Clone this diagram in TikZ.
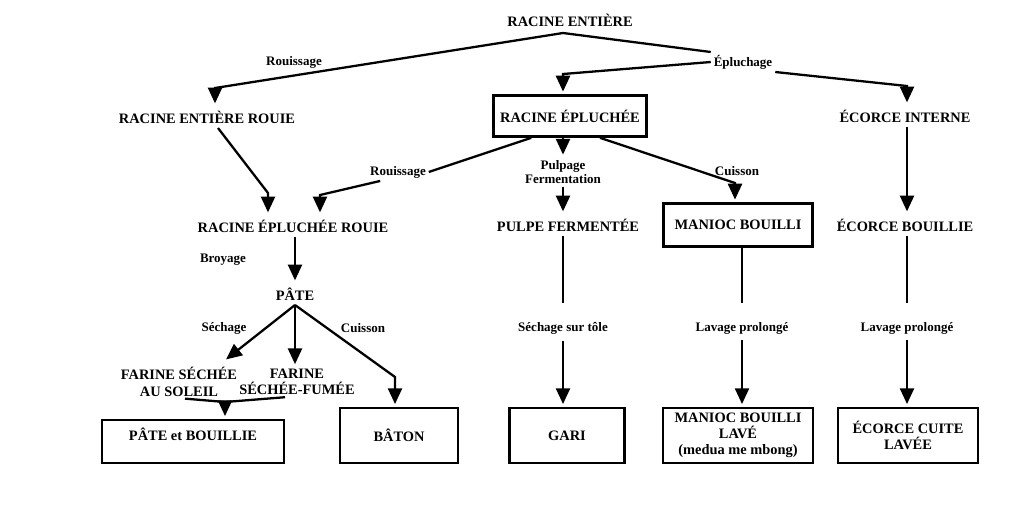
\documentclass[tikz,border=0pt]{standalone}
\usepackage{fontspec}
\setmainfont{Liberation Serif}
\usetikzlibrary{arrows.meta}
\begin{document}
\begin{tikzpicture}[x=0.02cm,y=-0.02cm,
  prod/.style={font=\fontsize{8.2}{9.4}\selectfont\bfseries,align=center,inner sep=2.5pt},
  box/.style={prod,draw,line width=1.5pt},
  lbl/.style={font=\fontsize{7.4}{8.2}\selectfont\bfseries,align=center,inner sep=1.5pt},
  ln/.style={line width=1.3pt},
  fl/.style={ln,-{Triangle[width=8pt,length=9pt]},shorten >=1.5pt}]
\useasboundingbox (0,0) rectangle (1024,512);
% produits
\node[prod] (ent) at (570,20) {RACINE ENTIÈRE};
\node[prod] (rer) at (207,117) {RACINE ENTIÈRE ROUIE};
\node[box,minimum width=3.06cm,minimum height=0.82cm] (ep) at (570,116) {RACINE ÉPLUCHÉE};
\node[prod] (ei) at (905,116) {ÉCORCE INTERNE};
\node[prod] (epr) at (293,226) {RACINE ÉPLUCHÉE ROUIE};
\node[prod] (pf) at (568,225) {PULPE FERMENTÉE};
\node[box,minimum width=2.98cm,minimum height=0.86cm] (mb) at (738,225) {MANIOC BOUILLI};
\node[prod] (eb) at (905,225) {ÉCORCE BOUILLIE};
\node[prod] (pate) at (295,294) {PÂTE};
\node[prod,inner sep=1pt] (fs) at (179,382) {FARINE SÉCHÉE\\AU SOLEIL};
\node[prod,inner sep=1pt] (ff) at (297,382) {FARINE\\SÉCHÉE-FUMÉE};
\node[box,minimum width=3.64cm,minimum height=0.86cm,text depth=0.3cm] (pb) at (193,441.5) {PÂTE et BOUILLIE};
\node[box,minimum width=2.36cm,minimum height=1.1cm] (bat) at (399,435.5) {BÂTON};
\node[box,minimum width=2.3cm,minimum height=1.1cm] (gari) at (567,435.5) {GARI};
\node[box,minimum width=3cm,minimum height=1.1cm,inner ysep=1pt,font=\fontsize{8.2}{8.8}\selectfont\bfseries] (mbl) at (738,435.5) {MANIOC BOUILLI\\LAVÉ\\[0.5pt](medua me mbong)};
\node[box,minimum width=2.8cm,minimum height=1.1cm] (ecl) at (908,435.5) {ÉCORCE CUITE\\LAVÉE};
% operations
\node[lbl] (rou1) at (294,62) {Rouissage};
\node[lbl] (epl) at (743,62) {Épluchage};
\node[lbl] (rou2) at (398,172) {Rouissage};
\node[lbl] (pulp) at (563,172) {Pulpage\\Fermentation};
\node[lbl] (cui1) at (737,171) {Cuisson};
\node[lbl] (broy) at (223,260) {Broyage};
\node[lbl] (sech) at (224,328) {Séchage};
\node[lbl] (cui2) at (363,328) {Cuisson};
\node[lbl] (sst) at (563,328) {Séchage sur tôle};
\node[lbl] (lav1) at (742,328) {Lavage prolongé};
\node[lbl] (lav2) at (907,328) {Lavage prolongé};
% coudes
\coordinate (top) at (563,33);
\coordinate (k1) at (215,88);
\coordinate (k2) at (563,74);
\coordinate (k3) at (907,86);
\coordinate (k4) at (268,193);
\coordinate (k5) at (320,195);
\coordinate (k6) at (735,183);
\coordinate (k7) at (224,361);
\coordinate (k8) at (395,377);
\coordinate (k9) at (225,402);
% fleches
\draw[fl] (top) -- (k1) -- (k1 |- rer.north);
\draw[ln] (top) -- (epl.north west);
\draw[fl] (epl.west) -- (k2) -- (k2 |- ep.north);
\draw[fl] (epl.south east) -- (k3) -- (k3 |- ei.north);
\draw[fl] ([xshift=0.22cm]rer.south) -- (k4) -- (k4 |- epr.north);
\draw[ln] ([xshift=0.78cm]ep.south west) -- (rou2.east);
\draw[fl] ([xshift=0.26cm]rou2.south west) -- (k5) -- (k5 |- epr.north);
\draw[fl] (pulp.north |- ep.south) -- (pulp.north);
\draw[fl] (pulp.south) -- (pulp.south |- pf.north);
\draw[fl] ([xshift=0.6cm]ep.south) -- (k6) -- (k6 |- mb.north);
\draw[fl] (k3 |- ei.south) -- (k3 |- eb.north);
\draw[fl] (epr.south -| pate.north) -- (pate.north);
\draw[fl] (pate.south) -- (k7);
\draw[fl] (pate.south) -- (pate.south |- ff.north);
\draw[fl] (pate.south) -- (k8) -- (k8 |- bat.north);
\draw[ln] ([xshift=0.12cm]fs.south) -- (k9);
\draw[ln] ([xshift=-0.24cm]ff.south) -- (k9);
\draw[fl] (k9) -- (k9 |- pb.north);
\draw[ln,shorten >=9pt] (sst.north |- pf.south) -- (sst.north);
\draw[fl,shorten <=2pt] (sst.south) -- (sst.south |- gari.north);
\draw[ln,shorten >=9pt] (lav1.north |- mb.south) -- (lav1.north);
\draw[fl,shorten <=2pt] (lav1.south) -- (lav1.south |- mbl.north);
\draw[ln,shorten >=9pt] (lav2.north |- eb.south) -- (lav2.north);
\draw[fl,shorten <=2pt] (lav2.south) -- (lav2.south |- ecl.north);
\end{tikzpicture}
\end{document}
